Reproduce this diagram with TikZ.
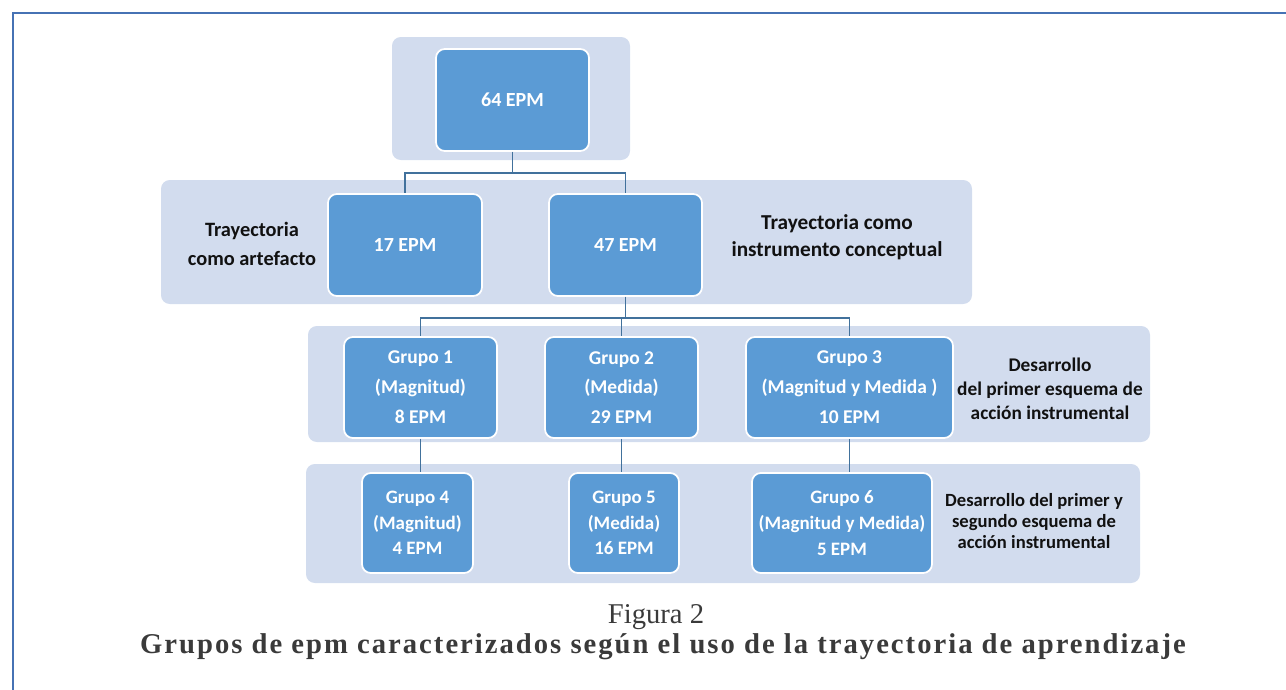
\documentclass[tikz,border=0pt]{standalone}
\usepackage{fontspec}
\setmainfont{Liberation Serif}
\newfontfamily\boxfont{Carlito}
\usepackage{xcolor}
\usepackage{tikz}
\usetikzlibrary{calc}
\definecolor{frame}{HTML}{4672B4}
\definecolor{band}{HTML}{D2DCEE}
\definecolor{boxfill}{HTML}{5B9BD5}
\definecolor{wire}{HTML}{41719C}
\definecolor{ink}{HTML}{111111}
\definecolor{capink}{HTML}{3A3A3A}
\tikzset{
  outer/.style={draw=frame, line width=1.3pt},
  bandbg/.style={fill=band, rounded corners=5pt},
  epm/.style={fill=boxfill, draw=white, line width=1pt, rounded corners=5pt,
    text=white, align=center, inner sep=0pt},
  big/.style={epm, font=\boxfont\bfseries\fontsize{11.4}{16}\selectfont},
  grp/.style={epm, font=\boxfont\bfseries\fontsize{11.1}{17}\selectfont},
  sub/.style={epm, font=\boxfont\bfseries\fontsize{10.8}{14.6}\selectfont},
  conn/.style={draw=wire, line width=1.1pt},
  lab/.style={text=ink, align=center, font=\boxfont\bfseries\fontsize{11.6}{16.4}\selectfont},
  captxt/.style={text=capink, font=\fontsize{16.3}{19}\selectfont},
}
\begin{document}
\begin{tikzpicture}[x=0.02cm,y=-0.02cm]
  \useasboundingbox (0,0) rectangle (1286,690);
  \draw[outer] (13,690) -- (13,13) -- (1286,13);
  % bands
  \fill[bandbg] (392,37) rectangle (630,160);
  \fill[bandbg] (161,180) rectangle (972,304);
  \fill[bandbg] (308,326) rectangle (1150,442);
  \fill[bandbg] (306,464) rectangle (1140,583);
  % level 0 and 1
  \node[big, minimum width=3.06cm, minimum height=2.04cm] (top) at (512.5,100) {64 EPM};
  \node[big, minimum width=3.08cm, minimum height=2.04cm] (art) at (405,245) {17 EPM};
  \node[big, minimum width=3.06cm, minimum height=2.04cm] (ins) at (625.5,245) {47 EPM};
  % groups
  \node[grp, minimum width=3.06cm, minimum height=2.02cm] (g1) at (420.5,387.5) {Grupo 1\\(Magnitud)\\8 EPM};
  \node[grp, minimum width=3.06cm, minimum height=2.02cm] (g2) at (621.5,387.5) {Grupo 2\\(Medida)\\29 EPM};
  \node[grp, minimum width=4.14cm, minimum height=2.02cm] (g3) at (849.5,387.5) {Grupo 3\\(Magnitud y Medida )\\10 EPM};
  \node[sub, minimum width=2.22cm, minimum height=2cm] (g4) at (417.5,523) {Grupo 4\\(Magnitud)\\4 EPM};
  \node[sub, minimum width=2.2cm, minimum height=2cm] (g5) at (624,523) {Grupo 5\\(Medida)\\16 EPM};
  \node[sub, minimum width=3.6cm, minimum height=2cm] (g6) at (842,523) {Grupo 6\\(Magnitud y Medida)\\5 EPM};
  % side labels
  \node[lab] (tart) at (252,244) {Trayectoria\\como artefacto};
  \node[lab, font=\boxfont\bfseries\fontsize{12.1}{15.3}\selectfont] (tins) at (837,237) {Trayectoria como\\instrumento conceptual};
  \node[lab, font=\boxfont\bfseries\fontsize{11}{13.6}\selectfont] (tuno) at (1050,389) {Desarrollo\\del primer esquema de\\acción instrumental};
  \node[lab, font=\boxfont\bfseries\fontsize{10.6}{12}\selectfont] (tdos) at (1034,521) {Desarrollo del primer y\\segundo esquema de\\acción instrumental};
  % connectors
  \draw[conn] (top.south) -- ++(0,21) -| (art.north);
  \draw[conn] (top.south) -- ++(0,21) -| (ins.north);
  \draw[conn] (ins.south) -- ++(0,21) -| (g1.north);
  \draw[conn] (ins.south) -- ++(0,21) -| (g2.north);
  \draw[conn] (ins.south) -- ++(0,21) -| (g3.north);
  \draw[conn] (g1.south) -- (g1.south |- g4.north);
  \draw[conn] (g2.south) -- (g2.south |- g5.north);
  \draw[conn] (g3.south) -- (g3.south |- g6.north);
  % caption
  \node[captxt] (fig) at (656,617) {Figura 2};
  \node[captxt, font=\bfseries\fontsize{16.3}{19}\selectfont\addfontfeatures{LetterSpace=7}] (tit) at (663,647) {Grupos de epm caracterizados según el uso de la trayectoria de aprendizaje};
\end{tikzpicture}
\end{document}
